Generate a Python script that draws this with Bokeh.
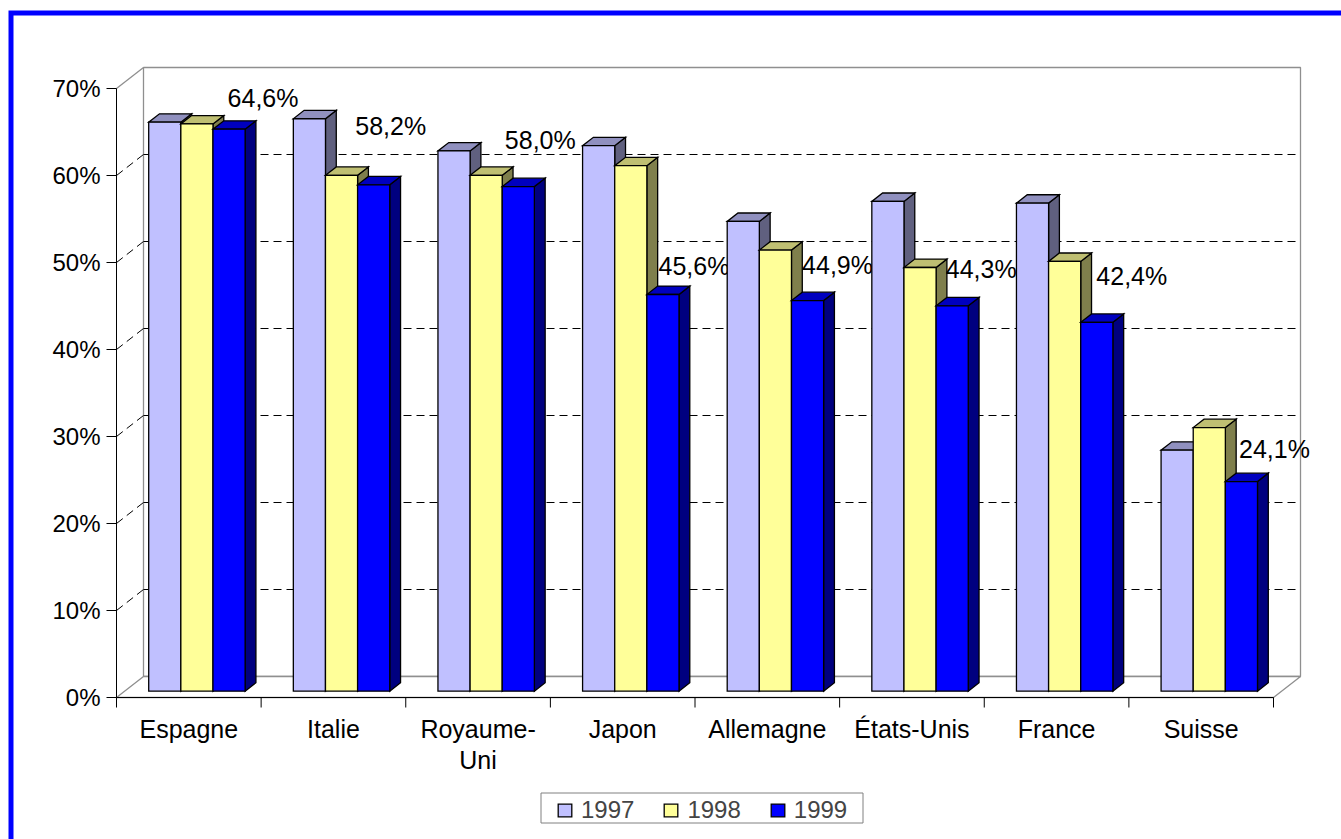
from bokeh.plotting import figure
from bokeh.models import Range1d, Legend, LegendItem
from bokeh.core.properties import value
from bokeh.embed import file_html
from bokeh.resources import INLINE

# ---- data -------------------------------------------------------------
categories = ["Espagne", "Italie", "Royaume-Uni", "Japon",
              "Allemagne", "États-Unis", "France", "Suisse"]
category_labels = ["Espagne", "Italie", "Royaume-\nUni", "Japon",
                   "Allemagne", "États-Unis", "France", "Suisse"]
years = ["1997", "1998", "1999"]
share_1997 = [65.4, 65.8, 62.1, 62.7, 54.0, 56.3, 56.1, 27.7]
share_1998 = [65.2, 59.3, 59.3, 60.4, 50.7, 48.7, 49.4, 30.3]
share_1999 = [64.6, 58.2, 58.0, 45.6, 44.9, 44.3, 42.4, 24.1]
y_ticks = [0, 10, 20, 30, 40, 50, 60, 70]

series = [share_1997, share_1998, share_1999]
front_colors = ["#C0C0FF", "#FFFF99", "#0000FF"]

# ---- layout (pixels) --------------------------------------------------
W, H = 1341, 839
X0_PX, Y0_PX = 116, 697          # front-left corner of the floor
PX_PER_CAT = 144.625             # width of one category on the front edge
PX_PER_PCT = 8.7                 # one percentage point
DEPTH_X_PX, DEPTH_Y_PX = 27, 21  # oblique offset of the back wall
FONT = "Liberation Sans"


def px_x(px):
    return (px - X0_PX) / PX_PER_CAT


def px_y(py):
    return (Y0_PX - py) / PX_PER_PCT


DX = DEPTH_X_PX / PX_PER_CAT
DY = DEPTH_Y_PX / PX_PER_PCT
F0, F1 = 0.30, 0.70              # depth span of the columns
BW = 1 / 4.5                     # column width (gap width 150 %)
GAP = 0.75 * BW
N = len(categories)
YMAX = y_ticks[-1]

# 1999 label nudges in pixels (right, up) from the column's top-front centre
label_nudge = [(34, 31), (17, 59), (22, 47), (31, 28), (30, 36),
               (29, 37), (35, 46), (33, 33)]


def shade(hex_color, f):
    h = hex_color.lstrip("#")
    r, g, b = (int(h[i:i + 2], 16) for i in (0, 2, 4))
    return "#%02x%02x%02x" % (int(r * f), int(g * f), int(b * f))


p = figure(width=W, height=H,
           x_range=Range1d(px_x(0), px_x(W)),
           y_range=Range1d(px_y(H), px_y(0)),
           x_axis_type=None, y_axis_type=None,
           toolbar_location=None, output_backend="svg",
           min_border=0, outline_line_color=None,
           background_fill_color="white", border_fill_color="white")

WALL = "#8f8f8f"

# walls and floor
p.patch([DX, N + DX, N + DX, DX], [DY, DY, YMAX + DY, YMAX + DY],
        fill_color="white", line_color=WALL, line_width=1.3)
p.patch([0, N, N + DX, DX], [0, 0, DY, DY],
        fill_color="white", line_color=WALL, line_width=1.3)
p.segment(x0=[0], y0=[YMAX], x1=[DX], y1=[YMAX + DY],
          line_color=WALL, line_width=1.3)

# dashed gridlines on the back wall and the left wall
grid_levels = [t for t in y_ticks if 0 < t < YMAX]
p.segment(x0=[DX] * len(grid_levels), y0=[t + DY for t in grid_levels],
          x1=[N + DX] * len(grid_levels), y1=[t + DY for t in grid_levels],
          line_color="black", line_width=1, line_dash="8 5")
p.segment(x0=[0] * len(grid_levels), y0=grid_levels,
          x1=[DX] * len(grid_levels), y1=[t + DY for t in grid_levels],
          line_color="black", line_width=1, line_dash="8 5")

# axes
p.segment(x0=[0, 0], y0=[0, 0], x1=[N, 0], y1=[0, YMAX],
          line_color="black", line_width=1)
p.segment(x0=[px_x(106)] * len(y_ticks), y0=y_ticks,
          x1=[0] * len(y_ticks), y1=y_ticks,
          line_color="black", line_width=1)
p.segment(x0=list(range(N + 1)), y0=[0] * (N + 1),
          x1=list(range(N + 1)), y1=[px_y(707)] * (N + 1),
          line_color="black", line_width=1)

p.text(x=[px_x(100)] * len(y_ticks), y=y_ticks,
       text=[f"{t}%" for t in y_ticks],
       text_font=value(FONT), text_font_size="24px",
       text_align="right", text_baseline="middle", text_color="black")

cx, cy, ct = [], [], []
for i, lab in enumerate(category_labels):
    for j, line in enumerate(lab.split("\n")):
        cx.append(i + 0.5)
        cy.append(px_y(728.5 + 31 * j))
        ct.append(line)
p.text(x=cx, y=cy, text=ct, text_font=value(FONT), text_font_size="25px",
       text_align="center", text_baseline="middle", text_color="black")

# columns, one renderer per country so later clusters cover earlier labels
bar_renderers = []
for i in range(N):
    xs, ys, fills = [], [], []
    for k, vals in enumerate(series):
        v = vals[i]
        left = i + GAP + k * BW
        right = left + BW
        base = front_colors[k]
        xs.append([right + F0 * DX, right + F1 * DX, right + F1 * DX, right + F0 * DX])
        ys.append([F0 * DY, F1 * DY, v + F1 * DY, v + F0 * DY])
        fills.append(shade(base, 0.5))
        xs.append([left + F0 * DX, right + F0 * DX, right + F1 * DX, left + F1 * DX])
        ys.append([v + F0 * DY, v + F0 * DY, v + F1 * DY, v + F1 * DY])
        fills.append(shade(base, 0.75))
        xs.append([left + F0 * DX, right + F0 * DX, right + F0 * DX, left + F0 * DX])
        ys.append([F0 * DY, F0 * DY, v + F0 * DY, v + F0 * DY])
        fills.append(base)
    r = p.patches(xs, ys, fill_color=fills, line_color="black",
                  line_width=1.3, line_join="miter")
    bar_renderers.append(r)

    v = share_1999[i]
    nx, ny = label_nudge[i]
    p.text(x=[i + GAP + 2.5 * BW + F0 * DX + nx / PX_PER_CAT],
           y=[v + F0 * DY + ny / PX_PER_PCT],
           text=[f"{v:.1f}".replace(".", ",") + "%"],
           text_font=value(FONT), text_font_size="25px",
           text_align="center", text_baseline="middle", text_color="black")

# legend frame
p.quad(left=[px_x(540.5)], right=[px_x(862.5)], top=[px_y(792.5)], bottom=[px_y(822.5)],
       fill_color="white", line_color="#808080", line_width=1)

legend = Legend(
    items=[LegendItem(label=years[k], renderers=[bar_renderers[0]], index=3 * k + 2)
           for k in range(3)],
    orientation="horizontal", location=(556, 15),
    padding=0, margin=0, spacing=28,
    glyph_width=17, glyph_height=16, label_standoff=8,
    label_text_font=FONT, label_text_font_size="24px",
    border_line_color=None, background_fill_alpha=0)
p.add_layout(legend)

# blue frame around the chart area
p.line(x=[px_x(10.5), px_x(10.5), px_x(W + 20)],
       y=[px_y(H + 20), px_y(12.5), px_y(12.5)],
       line_color="#0000FF", line_width=5, line_join="miter")

open("out.html", "w").write(file_html(p, INLINE))
